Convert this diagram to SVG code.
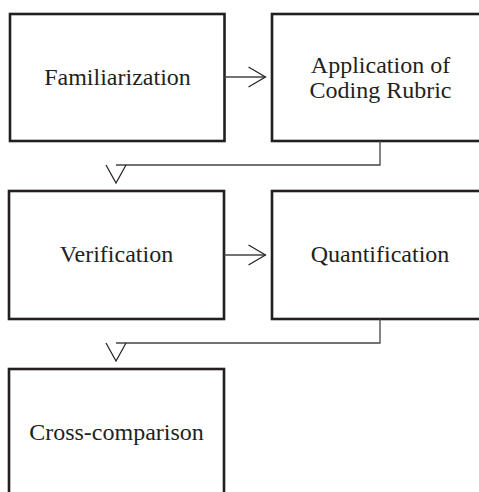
<svg xmlns="http://www.w3.org/2000/svg" width="479" height="492" viewBox="0 0 479 492">
<style>
.box{fill:#fff;stroke:#231f20;stroke-width:2.6}
.lbl{font-family:"Liberation Serif","Times New Roman",serif;font-size:24px;fill:#231f20;text-anchor:middle}
.con{fill:none;stroke:#444;stroke-width:1.3}
.head{fill:none;stroke:#231f20;stroke-width:1.2}
</style>
<rect width="479" height="492" fill="#fff"/>
<g id="familiarization"><rect class="box" x="10" y="14" width="214.5" height="127"/><text class="lbl" x="117.5" y="85">Familiarization</text></g>
<g id="application"><rect class="box" x="272" y="14" width="215" height="127"/><text class="lbl" x="380.5" y="72.5">Application of</text><text class="lbl" x="380.5" y="97.5">Coding Rubric</text></g>
<g id="verification"><rect class="box" x="9" y="191" width="215" height="128"/><text class="lbl" x="116.5" y="262">Verification</text></g>
<g id="quantification"><rect class="box" x="272" y="191" width="215" height="128"/><text class="lbl" x="380" y="262">Quantification</text></g>
<g id="cross-comparison"><rect class="box" x="9" y="369" width="215" height="128"/><text class="lbl" x="116.5" y="440">Cross-comparison</text></g>
<g id="connectors">
<path class="con" d="M224.5 77H265.5"/><path class="head" d="M248.5 67L265.5 77L248.5 87"/>
<path class="con" d="M224 255H265.5"/><path class="head" d="M248.5 245L265.5 255L248.5 265"/>
<path class="con" d="M380 141V165H116"/><path class="head" d="M106 165L116 183L126 165"/>
<path class="con" d="M380 319V343H116"/><path class="head" d="M106 343L116 361L126 343"/>
</g>
</svg>
